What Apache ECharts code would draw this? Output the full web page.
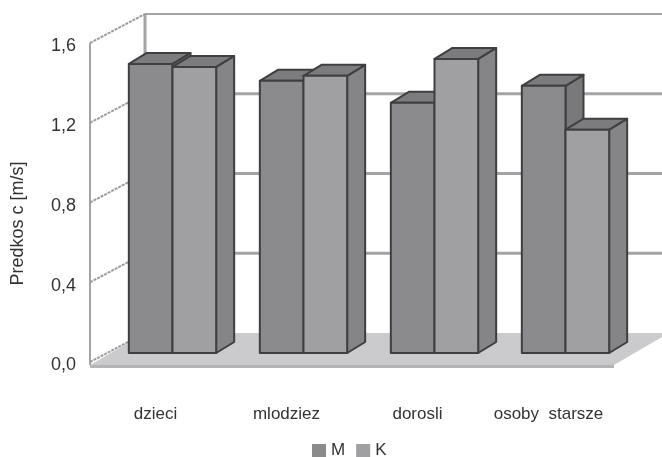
<!DOCTYPE html>
<html>
<head>
<meta charset="utf-8">
<style>html,body{margin:0;padding:0;background:#fff}#chart{width:662px;height:457px}</style>
<script src="https://cdn.jsdelivr.net/npm/echarts@6/dist/echarts.min.js"></script>
</head>
<body>
<div id="chart"></div>
<script>
var categories = ['dzieci', 'mlodziez', 'dorosli', 'osoby  starsze'];
var valuesM = [1.45, 1.365, 1.255, 1.34];
var valuesK = [1.435, 1.39, 1.475, 1.12];
var ticks = [0, 0.4, 0.8, 1.2, 1.6];

var wallDx = 55, wallDy = -29;   // przesuniecie tylnej sciany
var barDx = 17, barDy = -9;      // przesuniecie slupkow wzgledem osi
var depthDx = 18, depthDy = -11; // glebokosc slupka
var EDGE = '#3f3f41';

var myChart = echarts.init(document.getElementById('chart'));

function poly(points, fill, z2, stroke, lw) {
	return {
		type: 'polygon',
		z2: z2,
		shape: { points: points },
		style: { fill: fill, stroke: stroke || EDGE, lineWidth: lw === undefined ? 2 : lw, lineJoin: 'round' }
	};
}

// sciany i podloga wykresu
function renderFloor(params, api) {
	var a = api.coord([0, 0]);
	var band = api.size([1, 0])[0];
	var w = band * categories.length;
	var x0 = a[0] - band / 2;
	var y0 = a[1];
	var yTop = api.coord([0, 1.6])[1];
	return {
		type: 'group',
		children: [
			poly([[x0, y0 + 6], [x0 + w, y0 + 6], [x0 + w, y0 + 3], [x0, y0 + 3]], '#b4b4b6', 1, 'none', 0),
			poly([[x0, y0 + 3], [x0 + w, y0 + 3], [x0 + w + wallDx, y0 + wallDy], [x0 + wallDx, y0 + wallDy]], '#cbcbcd', 2, 'none', 0),
			{ type: 'line', z2: 3, shape: { x1: x0, y1: y0 + 3, x2: x0, y2: yTop }, style: { stroke: '#a4a4a6', lineWidth: 2 } },
			{ type: 'line', z2: 3, shape: { x1: x0 + wallDx, y1: y0 + wallDy, x2: x0 + wallDx, y2: yTop + wallDy }, style: { stroke: '#a4a4a6', lineWidth: 3 } }
		]
	};
}

function renderTick(params, api) {
	var band = api.size([1, 0])[0];
	var p = api.coord([0, api.value(1)]);
	var x0 = p[0] - band / 2;
	var right = x0 + band * categories.length + wallDx;
	var kids = [
		{ type: 'line', shape: { x1: x0, y1: p[1], x2: x0 + wallDx, y2: p[1] + wallDy }, style: { stroke: '#9c9c9e', lineWidth: 2, lineDash: [3, 1] } }
	];
	if (api.value(1) > 0) {
		kids.push({ type: 'line', shape: { x1: x0 + wallDx, y1: p[1] + wallDy, x2: right, y2: p[1] + wallDy }, style: { stroke: '#a4a4a6', lineWidth: api.value(1) === 1.6 ? 2 : 3 } });
	}
	return { type: 'group', children: kids };
}

// slupek 3D: side -1 = lewy (M), 0 = prawy (K)
function barRenderer(side, front, top, right) {
	return function (params, api) {
		var base = api.coord([api.value(0), 0]);
		var head = api.coord([api.value(0), api.value(1)]);
		var bw = api.size([1, 0])[0] / 3;
		var x1 = base[0] + barDx + side * bw;
		var x2 = x1 + bw;
		var yb = base[1] + barDy;
		var yt = head[1] + barDy;
		return {
			type: 'group',
			children: [
				poly([[x2, yb], [x2 + depthDx, yb + depthDy], [x2 + depthDx, yt + depthDy], [x2, yt]], right, 1),
				poly([[x1, yt], [x2, yt], [x2 + depthDx, yt + depthDy], [x1 + depthDx, yt + depthDy]], top, 2),
				poly([[x1, yb], [x2, yb], [x2, yt], [x1, yt]], front, 3)
			]
		};
	};
}

var option = {
	animation: false,
	textStyle: { fontFamily: '"Liberation Sans", Arial, sans-serif' },
	grid: { left: 90, right: 48, top: 43, bottom: 95, outerBoundsMode: 'none' },
	legend: {
		left: 312,
		top: 442,
		padding: 0,
		data: ['M', 'K'],
		icon: 'rect',
		itemWidth: 14,
		itemHeight: 13,
		itemGap: 11,
		textStyle: { fontSize: 17, color: '#333', padding: [7, 0, 0, 0] }
	},
	xAxis: {
		type: 'category',
		data: categories,
		axisLine: { show: false },
		axisTick: { show: false },
		axisLabel: { fontSize: 17, color: '#333', margin: 44, interval: 0 }
	},
	yAxis: {
		type: 'value',
		min: 0,
		max: 1.6,
		interval: 0.4,
		name: 'Predkos c [m/s]',
		nameLocation: 'middle',
		nameGap: 63,
		nameTextStyle: { fontSize: 18, color: '#333', padding: [0, 42, 0, 0] },
		axisLine: { show: false },
		axisTick: { show: false },
		splitLine: { show: false },
		axisLabel: {
			margin: 14,
			formatter: function (v) { return '{a|' + v.toFixed(1).replace('.', ',') + '}'; },
			rich: { a: { fontSize: 18, color: '#333', padding: [7, 0, 0, 0] } }
		}
	},
	series: [
		{ type: 'custom', silent: true, z: 1, clip: false, renderItem: renderFloor, data: [[0, 0]], encode: { x: 0, y: 1 } },
		{ type: 'custom', silent: true, z: 2, clip: false, renderItem: renderTick, data: ticks.map(function (t) { return [0, t]; }), encode: { x: 0, y: 1 } },
		{
			name: 'M', type: 'custom', z: 3, clip: false,
			itemStyle: { color: '#8b8b8d' },
			renderItem: barRenderer(-1, '#8b8b8d', '#7c7c7e', '#79797b'),
			data: valuesM.map(function (v, i) { return [i, v]; }),
			encode: { x: 0, y: 1 }
		},
		{
			name: 'K', type: 'custom', z: 4, clip: false,
			itemStyle: { color: '#a0a0a2' },
			renderItem: barRenderer(0, '#a0a0a2', '#7c7c7e', '#858587'),
			data: valuesK.map(function (v, i) { return [i, v]; }),
			encode: { x: 0, y: 1 }
		}
	]
};

myChart.setOption(option);
</script>
</body>
</html>
